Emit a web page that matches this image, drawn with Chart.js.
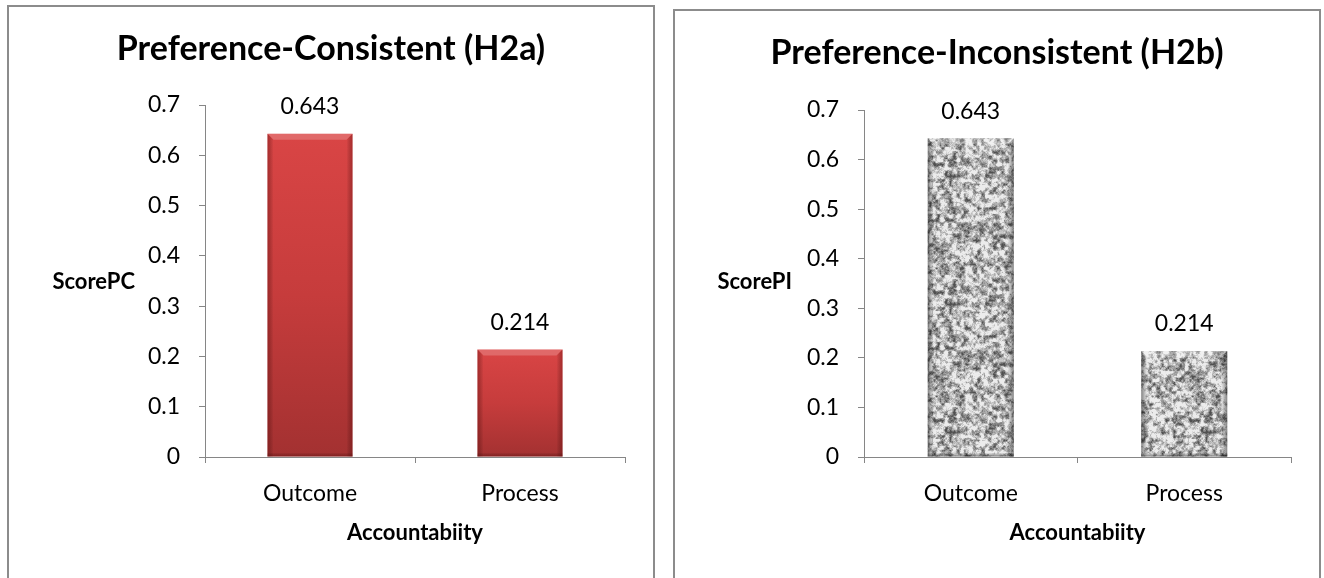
<!DOCTYPE html>
<html>
<head>
<meta charset="utf-8">
<script src="https://cdn.jsdelivr.net/npm/chart.js@4.4.1/dist/chart.umd.min.js"></script>
<style>
  html, body { margin: 0; padding: 0; background: #ffffff; }
  #wrap { position: relative; width: 1324px; height: 578px; overflow: hidden; }
  .panel { position: absolute; top: 0; width: 662px; height: 578px; }
</style>
</head>
<body>
<div id="wrap">
  <div class="panel" style="left:0"><canvas id="chartPC" width="662" height="578"></canvas></div>
  <div class="panel" style="left:662px"><canvas id="chartPI" width="662" height="578"></canvas></div>
</div>
<script>
// ---- data ----
const categories = ['Outcome', 'Process'];
const scorePC = [0.643, 0.214];
const scorePI = [0.643, 0.214];
const valueTicks = ['0', '0.1', '0.2', '0.3', '0.4', '0.5', '0.6', '0.7'];
const chartTitles = ['Preference-Consistent (H2a)', 'Preference-Inconsistent (H2b)'];
const yAxisTitles = ['ScorePC', 'ScorePI'];
const xAxisTitle = 'Accountabiity';

const FONT = 'Lato, "Open Sans", sans-serif';
const AXIS_GRAY = '#868686';
Chart.defaults.font.family = FONT;
Chart.defaults.color = '#000000';

// ---- granite texture for the grey bars (deterministic hash noise) ----
function hashNoise(i, j) {
  const s = Math.sin(i * 127.1 + j * 311.7) * 43758.5453;
  return s - Math.floor(s);
}
function graniteCanvas(size) {
  const c = document.createElement('canvas');
  c.width = c.height = size;
  const g = c.getContext('2d');
  const img = g.createImageData(size, size);
  const layer = (x, y, cell, salt) => {
    const n = size / cell;
    const gx = x / cell, gy = y / cell;
    const i0 = Math.floor(gx), j0 = Math.floor(gy);
    const fx = gx - i0, fy = gy - j0;
    const sx = fx * fx * (3 - 2 * fx), sy = fy * fy * (3 - 2 * fy);
    const v = (i, j) => hashNoise(((i % n) + n) % n + salt, ((j % n) + n) % n + salt * 1.7);
    const a = v(i0, j0), b = v(i0 + 1, j0), c2 = v(i0, j0 + 1), d = v(i0 + 1, j0 + 1);
    return a + (b - a) * sx + (c2 - a) * sy + (a - b - c2 + d) * sx * sy;
  };
  for (let y = 0; y < size; y++) {
    for (let x = 0; x < size; x++) {
      const v = 0.5 * layer(x, y, 4, 3) + 0.35 * layer(x, y, 2, 11) + 0.15 * layer(x, y, 1, 29);
      let t = (v - 0.5) * 2.2 + 0.66;
      t = Math.max(0, Math.min(1, t));
      const gray = Math.round(80 + t * 156);
      const k = (y * size + x) * 4;
      img.data[k] = gray; img.data[k + 1] = gray; img.data[k + 2] = gray; img.data[k + 3] = 255;
    }
  }
  g.putImageData(img, 0, 0);
  return c;
}

// ---- bar fills ----
function redBarFill(context) {
  const chart = context.chart;
  const area = chart.chartArea;
  if (!area) return '#C83C3C';
  const top = chart.scales.y.getPixelForValue(context.raw);
  const g = chart.ctx.createLinearGradient(0, top, 0, area.bottom);
  g.addColorStop(0, '#D94545');
  g.addColorStop(0.5, '#C63C3C');
  g.addColorStop(1, '#A33131');
  return g;
}

// ---- plugins ----
const panelDecor = {
  id: 'panelDecor',
  beforeDraw(chart, args, o) {
    const ctx = chart.ctx;
    ctx.save();
    ctx.strokeStyle = '#8c8c8c';
    ctx.lineWidth = 2;
    ctx.beginPath();
    ctx.moveTo(o.panel.x, chart.height + 4);
    ctx.lineTo(o.panel.x, o.panel.y);
    ctx.lineTo(o.panel.x + o.panel.w, o.panel.y);
    ctx.lineTo(o.panel.x + o.panel.w, chart.height + 4);
    ctx.stroke();
    ctx.restore();
  },
  afterDraw(chart, args, o) {
    const ctx = chart.ctx;
    ctx.save();
    ctx.fillStyle = '#000000';
    ctx.textBaseline = 'middle';
    ctx.textAlign = 'center';
    ctx.font = 'bold 34px ' + FONT;
    ctx.fillText(o.title, o.panel.x + o.panel.w / 2, o.titleY);
    ctx.textAlign = 'right';
    ctx.font = 'bold 22px ' + FONT;
    ctx.fillText(o.yTitle, o.yTitleRight, o.yTitleY);
    ctx.restore();
  }
};

const barBevel = {
  id: 'barBevel',
  afterDatasetsDraw(chart, args, o) {
    const ctx = chart.ctx;
    const meta = chart.getDatasetMeta(0);
    const b = 6;
    ctx.save();
    meta.data.forEach((el) => {
      const x0 = el.x - el.width / 2, x1 = el.x + el.width / 2;
      const top = el.y, bottom = el.base;
      // top bevel
      ctx.beginPath();
      ctx.moveTo(x0, top); ctx.lineTo(x1, top); ctx.lineTo(x1 - b, top + b); ctx.lineTo(x0 + b, top + b); ctx.closePath();
      ctx.fillStyle = o.topLight; ctx.fill();
      // left bevel
      let g = ctx.createLinearGradient(x0, 0, x0 + b, 0);
      g.addColorStop(0, o.edgeDark); g.addColorStop(1, 'rgba(0,0,0,0)');
      ctx.beginPath();
      ctx.moveTo(x0, top); ctx.lineTo(x0 + b, top + b); ctx.lineTo(x0 + b, bottom); ctx.lineTo(x0, bottom); ctx.closePath();
      ctx.fillStyle = g; ctx.fill();
      // right bevel
      g = ctx.createLinearGradient(x1, 0, x1 - b, 0);
      g.addColorStop(0, o.edgeDark); g.addColorStop(1, 'rgba(0,0,0,0)');
      ctx.beginPath();
      ctx.moveTo(x1, top); ctx.lineTo(x1 - b, top + b); ctx.lineTo(x1 - b, bottom); ctx.lineTo(x1, bottom); ctx.closePath();
      ctx.fillStyle = g; ctx.fill();
      // bottom shade
      g = ctx.createLinearGradient(0, bottom, 0, bottom - 4);
      g.addColorStop(0, o.edgeDark); g.addColorStop(1, 'rgba(0,0,0,0)');
      ctx.fillStyle = g;
      ctx.fillRect(x0, bottom - 4, x1 - x0, 4);
    });
    ctx.restore();
  }
};

const valueLabels = {
  id: 'valueLabels',
  afterDatasetsDraw(chart, args, o) {
    const ctx = chart.ctx;
    const meta = chart.getDatasetMeta(0);
    const values = chart.data.datasets[0].data;
    ctx.save();
    ctx.font = '23px ' + FONT;
    ctx.fillStyle = '#000000';
    ctx.textAlign = 'center';
    ctx.textBaseline = 'middle';
    meta.data.forEach((el, i) => {
      ctx.fillText(values[i].toFixed(3), el.x, el.y - o.gap);
    });
    ctx.restore();
  }
};

// ---- chart factory ----
function makeChart(canvasId, values, fill, look) {
  const canvas = document.getElementById(canvasId);
  const width = canvas.width, height = canvas.height;
  return new Chart(canvas, {
    type: 'bar',
    data: {
      labels: categories,
      datasets: [{
        data: values,
        backgroundColor: fill,
        borderWidth: 0,
        categoryPercentage: 1,
        barPercentage: look.barPct
      }]
    },
    options: {
      responsive: false,
      animation: false,
      devicePixelRatio: 1,
      events: [],
      layout: {
        padding: { left: 0, top: look.area.top, right: width - look.area.right, bottom: 0 }
      },
      plugins: {
        legend: { display: false },
        title: { display: false },
        tooltip: { enabled: false },
        panelDecor: look.decor,
        barBevel: look.bevel,
        valueLabels: { gap: 27 }
      },
      scales: {
        x: {
          offset: true,
          grid: { offset: true, drawOnChartArea: false, drawTicks: true, tickLength: 6, color: AXIS_GRAY, lineWidth: 1 },
          border: { display: true, color: AXIS_GRAY, width: 1 },
          ticks: { font: { size: 23 }, color: '#000000', padding: 17, maxRotation: 0 },
          title: { display: true, text: xAxisTitle, font: { size: 22, weight: 'bold' }, color: '#000000', padding: { top: 0, bottom: 32 } },
          afterFit(scale) {
            scale.height = height - look.area.bottom;
            scale.paddingLeft = 0; scale.paddingRight = 0;
          }
        },
        y: {
          min: 0,
          max: 0.7,
          grid: { drawOnChartArea: false, drawTicks: true, tickLength: 6, color: AXIS_GRAY, lineWidth: 1 },
          border: { display: true, color: AXIS_GRAY, width: 1 },
          ticks: {
            stepSize: 0.1,
            font: { size: 23 },
            color: '#000000',
            padding: 19,
            callback: (v, i) => valueTicks[i]
          },
          afterFit(scale) {
            scale.width = look.area.left;
            scale.paddingTop = 0; scale.paddingBottom = 0;
          }
        }
      }
    },
    plugins: [panelDecor, barBevel, valueLabels]
  });
}

const texture = document.getElementById('chartPI').getContext('2d')
  .createPattern(graniteCanvas(128), 'repeat');

makeChart('chartPC', scorePC, redBarFill, {
  barPct: 0.405,
  area: { left: 205, right: 625, top: 105, bottom: 457 },
  decor: { panel: { x: 8, y: 6, w: 646 }, title: chartTitles[0], titleY: 49, yTitle: yAxisTitles[0], yTitleRight: 135, yTitleY: 282 },
  bevel: { topLight: 'rgba(255,235,235,0.22)', edgeDark: 'rgba(80,0,0,0.35)' }
});

makeChart('chartPI', scorePI, texture, {
  barPct: 0.403,
  area: { left: 202, right: 629, top: 110, bottom: 457 },
  decor: { panel: { x: 12, y: 10, w: 646 }, title: chartTitles[1], titleY: 53, yTitle: yAxisTitles[1], yTitleRight: 130, yTitleY: 282 },
  bevel: { topLight: 'rgba(255,255,255,0.25)', edgeDark: 'rgba(0,0,0,0.45)' }
});
</script>
</body>
</html>
